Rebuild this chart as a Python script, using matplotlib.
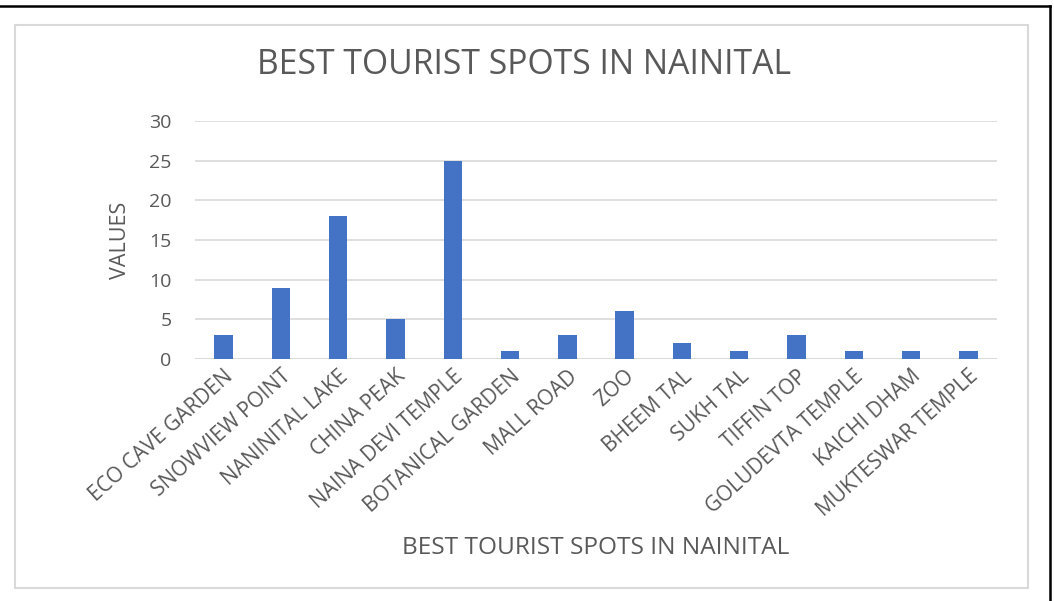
import matplotlib.pyplot as plt
from matplotlib.patches import Rectangle
from matplotlib.lines import Line2D

# data
spots = ['ECO CAVE GARDEN', 'SNOWVIEW POINT', 'NANINITAL LAKE', 'CHINA PEAK',
         'NAINA DEVI TEMPLE', 'BOTANICAL GARDEN', 'MALL ROAD', 'ZOO', 'BHEEM TAL',
         'SUKH TAL', 'TIFFIN TOP', 'GOLUDEVTA TEMPLE', 'KAICHI DHAM',
         'MUKTESWAR TEMPLE']
values = [3, 9, 18, 5, 25, 1, 3, 6, 2, 1, 3, 1, 1, 1]
yticks = [0, 5, 10, 15, 20, 25, 30]

txt = '#595959'
plt.rcParams['font.family'] = ['Open Sans', 'DejaVu Sans']

fig = plt.figure(figsize=(10.54, 6.01), dpi=100)
W, H = 1054, 601

# frame of the screenshot (top and right edge) and the chart box
fig.add_artist(Line2D([0, 1050 / W], [1 - 6 / H, 1 - 6 / H], color='black', lw=1.8))
fig.add_artist(Line2D([1050 / W, 1050 / W], [0, 1 - 6 / H], color='black', lw=1.8))
fig.add_artist(Rectangle((15 / W, 1 - 588 / H), (1028 - 15) / W, (588 - 25) / H,
                         fill=False, ec='#d9d9d9', lw=1.5))

ax = fig.add_axes([195 / W, 1 - 359 / H, (997 - 195) / W, (359 - 121) / H])
x = range(len(spots))
ax.bar(x, values, width=0.32, color='#4472C4', zorder=3)
ax.set_xlim(-0.5, len(spots) - 0.5)
ax.set_ylim(0, 30)
ax.set_yticks(yticks)
ax.yaxis.grid(True, color='#d9d9d9', lw=1.2, zorder=0)
for s in ax.spines.values():
    s.set_visible(False)
ax.axhline(0, color='#d9d9d9', lw=1.2, zorder=1)
ax.tick_params(length=0, colors=txt, labelsize=14)
ax.tick_params(axis='y', pad=17)
ax.tick_params(axis='x', pad=5)
ax.set_xticks(list(x))
ax.set_xticklabels(spots, rotation=42, ha='right', rotation_mode='anchor', fontsize=15)

fig.text(524 / W, 1 - 65 / H, 'BEST TOURIST SPOTS IN NAINITAL', ha='center', va='center',
         fontsize=24.3, color=txt)
fig.text(596 / W, 1 - 548 / H, 'BEST TOURIST SPOTS IN NAINITAL', ha='center', va='center',
         fontsize=17.6, color=txt)
fig.text(120 / W, 1 - 240 / H, 'VALUES', ha='center', va='center', rotation=90,
         fontsize=15.5, color=txt)

fig.savefig('out.png', dpi=100, facecolor='white')
